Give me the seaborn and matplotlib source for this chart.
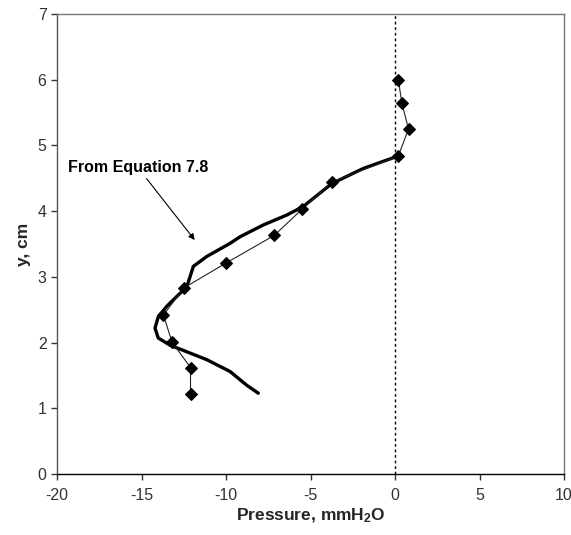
import pandas as pd
import matplotlib.pyplot as plt
import seaborn as sns

# measured points (diamonds)
p_meas = [0.2, 0.4, 0.8, 0.2, -3.75, -5.5, -7.15, -10.0, -12.5, -13.7, -13.2, -12.1, -12.1]
y_meas = [6.0, 5.65, 5.25, 4.84, 4.44, 4.03, 3.63, 3.21, 2.83, 2.42, 2.01, 1.62, 1.21]

# curve from Equation 7.8
p_eq = [0.2, -1.87, -3.74, -5.43, -6.41, -7.79, -9.17, -9.76, -11.14, -11.93, -12.13,
        -12.32, -12.92, -13.51, -14.01, -14.2, -14.01, -13.31, -12.32, -11.14, -9.76,
        -8.77, -8.09]
y_eq = [4.84, 4.65, 4.42, 4.07, 3.94, 3.79, 3.61, 3.51, 3.31, 3.16, 3.0,
        2.85, 2.7, 2.55, 2.39, 2.22, 2.07, 1.96, 1.86, 1.74, 1.56,
        1.35, 1.23]

df_meas = pd.DataFrame({'Pressure': p_meas, 'y': y_meas})
df_eq = pd.DataFrame({'Pressure': p_eq, 'y': y_eq})

sns.set_style("white")
plt.rcParams['font.family'] = ['Liberation Sans', 'DejaVu Sans']
plt.rcParams['mathtext.fontset'] = 'custom'
plt.rcParams['mathtext.rm'] = 'Liberation Sans:bold'
plt.rcParams['mathtext.default'] = 'rm'
plt.rcParams['axes.unicode_minus'] = False

fig = plt.figure(figsize=(5.71, 5.35), dpi=100)
ax = fig.add_axes([57 / 571, 1 - 474 / 535, (564 - 57) / 571, (474 - 14) / 535])

# dotted zero line
ax.axvline(0, color='black', linestyle=(0, (2, 2)), linewidth=1)

sns.lineplot(data=df_eq, x='Pressure', y='y', sort=False, estimator=None,
             color='black', linewidth=2.4, solid_joinstyle='round',
             solid_capstyle='round', ax=ax)
sns.lineplot(data=df_meas, x='Pressure', y='y', sort=False, estimator=None,
             color='#222222', linewidth=0.8, marker='D', markersize=6,
             markerfacecolor='black', markeredgecolor='black', ax=ax)

ax.annotate('From Equation 7.8', xy=(-11.85, 3.56), xytext=(-19.35, 4.66),
            fontsize=11.5, fontweight='bold', va='center', ha='left', color='black',
            arrowprops=dict(arrowstyle='-|>', color='black', lw=0.8,
                            shrinkA=0, shrinkB=0, mutation_scale=9),
            annotation_clip=False)

ax.set_xlim(-20, 10)
ax.set_ylim(0, 7)
ax.set_xticks(range(-20, 11, 5))
ax.set_yticks(range(0, 8))
ax.tick_params(direction='out', length=4, width=1, labelsize=11.5,
               bottom=True, left=True, colors='#333333')
ax.tick_params(axis='x', pad=6)
ax.set_xlabel('Pressure, mmH$_2$O', fontsize=12.5, fontweight='bold', labelpad=3)
ax.set_ylabel('y, cm', fontsize=12.5, fontweight='bold', labelpad=5)

ax.spines['bottom'].set_color('black')
ax.spines['left'].set_color('#555555')
ax.spines['top'].set_color('#777777')
ax.spines['right'].set_color('#777777')
for s in ax.spines.values():
    s.set_linewidth(1)

plt.savefig('out.png', dpi=100)
